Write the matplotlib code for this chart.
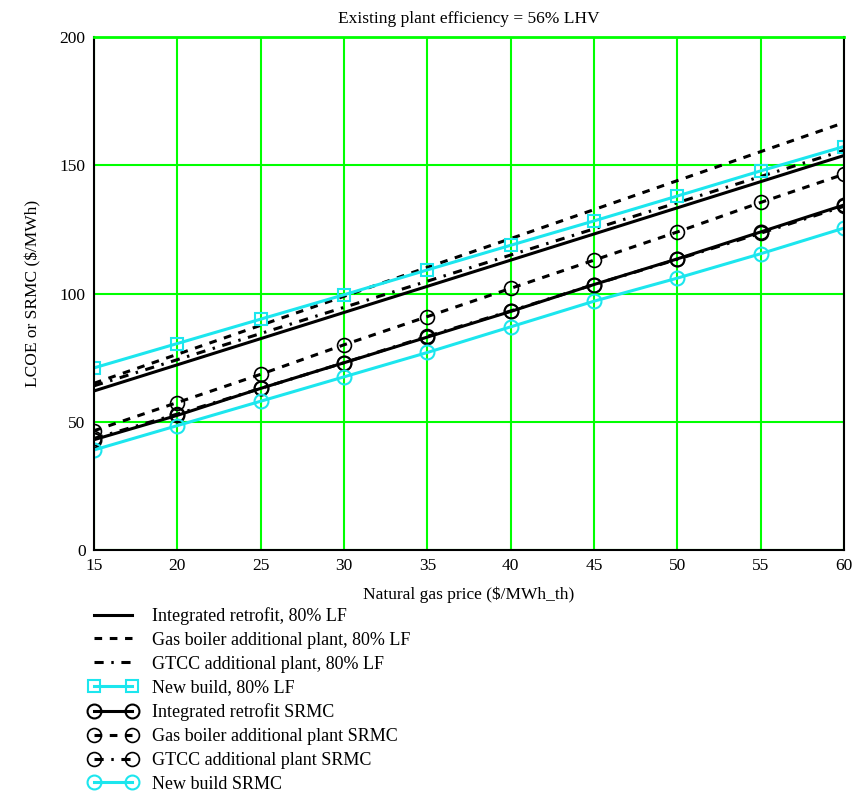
import numpy as np
import matplotlib.pyplot as plt

plt.rcParams['font.family'] = ['Liberation Serif', 'DejaVu Serif']

gas_price = [15, 20, 25, 30, 35, 40, 45, 50, 55, 60]

# levelised cost at 80% load factor ($/MWh)
retrofit_lf = [62, 72.2, 82.4, 92.6, 102.8, 113, 123.2, 133.4, 143.6, 153.8]
boiler_lf = [65, 76.3, 87.6, 98.9, 110.2, 121.4, 132.7, 144, 155.3, 166.6]
gtcc_lf = [64, 74.2, 84.4, 94.6, 104.8, 115, 125.2, 135.4, 145.6, 155.8]
newbuild_lf = [71, 80.5, 90, 99.5, 109.2, 118.8, 128.3, 138, 147.8, 157.3]

# short-run marginal cost ($/MWh)
retrofit_srmc = [43, 52.5, 63, 73, 83, 93, 103.5, 113.5, 124, 134.5]
boiler_srmc = [46.5, 57.5, 68.5, 80, 91, 102, 113, 124, 135.5, 146.5]
gtcc_srmc = [43.5, 53, 63, 73, 83.3, 93.2, 103.5, 113.3, 123.5, 134]
newbuild_srmc = [39, 48.5, 58, 67.5, 77, 87, 97, 106, 115.5, 125.5]

cyan = '#1ce6ee'
fig = plt.figure(figsize=(8.6, 7.96), dpi=100)
ax = fig.add_axes([94/860, 1-550/796, 750/860, 513/796])

lw = 2.2
ax.plot(gas_price, retrofit_lf, '-', color='black', lw=lw,
        label='Integrated retrofit, 80% LF')
ax.plot(gas_price, boiler_lf, color='black', lw=lw, dashes=(2.5, 2.5),
        label='Gas boiler additional plant, 80% LF')
ax.plot(gas_price, gtcc_lf, color='black', lw=lw, dashes=(3, 2.5, 0.8, 2.5),
        label='GTCC additional plant, 80% LF')
ax.plot(gas_price, newbuild_lf, '-', color=cyan, lw=lw, marker='s', ms=9,
        mfc='none', mew=1.5, label='New build, 80% LF')
ax.plot(gas_price, retrofit_srmc, '-', color='black', lw=lw, marker='o', ms=10,
        mfc='none', mew=1.5, label='Integrated retrofit SRMC')
ax.plot(gas_price, boiler_srmc, color='black', lw=lw, dashes=(2.5, 2.5),
        marker='o', ms=10, mfc='none', mew=1.2,
        label='Gas boiler additional plant SRMC')
ax.plot(gas_price, gtcc_srmc, color='black', lw=lw, dashes=(3, 2.5, 0.8, 2.5),
        marker='o', ms=10, mfc='none', mew=1.2,
        label='GTCC additional plant SRMC')
ax.plot(gas_price, newbuild_srmc, '-', color=cyan, lw=lw, marker='o', ms=10,
        mfc='none', mew=1.5, label='New build SRMC')

ax.set_xlim(15, 60)
ax.set_ylim(0, 200)
ax.set_xticks(np.arange(15, 61, 5))
ax.set_yticks(np.arange(0, 201, 50))
ax.grid(True, color='#00ff00', lw=1.5)
ax.set_axisbelow(True)
ax.tick_params(length=0, labelsize=12.5, pad=6)
for s in ax.spines.values():
    s.set_color('black')
    s.set_linewidth(1.5)
ax.spines['top'].set_color('#00ff00')
ax.spines['top'].set_linewidth(2)

ax.set_title('Existing plant efficiency = 56% LHV', fontsize=12.5, pad=10)
ax.set_xlabel('Natural gas price ($/MWh_th)', fontsize=12.5, labelpad=9)
ax.set_ylabel('LCOE or SRMC ($/MWh)', fontsize=12.5, labelpad=13)

fig.legend(loc='upper left', bbox_to_anchor=(89/860, 1-607/796), frameon=False,
           fontsize=13, numpoints=2, handlelength=2.7, handletextpad=0.8,
           labelspacing=0.38, borderaxespad=0, borderpad=0)

fig.savefig('out.png', dpi=100)
